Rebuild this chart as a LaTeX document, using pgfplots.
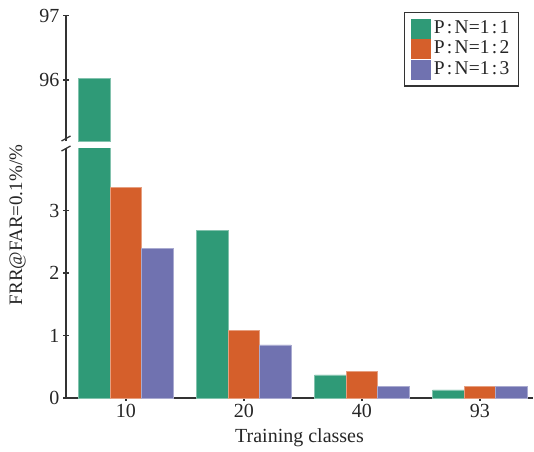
\documentclass[border=0pt]{standalone}
\usepackage{pgfplots}
\pgfplotsset{compat=1.18}
\usepackage{fontspec}
\setmainfont{Liberation Serif}
\definecolor{cA}{HTML}{2F9A77}
\definecolor{cB}{HTML}{D55F2B}
\definecolor{cC}{HTML}{7072B0}
\pgfplotstableread{
x g o p
0 96.03 3.37 2.39
1 2.68 1.08 0.85
2 0.37 0.43 0.19
3 0.13 0.19 0.19
}\data
\newcommand{\cs}{\hspace{0.12em}:\hspace{0.12em}}
\begin{document}
\begin{tikzpicture}
\useasboundingbox (0pt,0pt) rectangle (534pt,451pt);
\pgfplotsset{
 common/.style={
  scale only axis, width=467pt, xmin=-0.508, xmax=3.45,
  ybar=0pt, bar width=31.5pt,
  tick align=inside, major tick length=6pt,
  tick style={line width=1.3pt, black!80},
  ticklabel style={font=\fontsize{20}{24}\selectfont, text=black!85},
  /pgf/number format/assume math mode=true,
  clip=true,
 },
 nolinearrow/.style={
  axis line style={-, line width=1.3pt, black!80},
  x axis line style={-},
  y axis line style={-},
 },
 sq/.style={legend image code/.code={\fill[##1, draw=none] (0pt,-10pt) rectangle (20pt,10pt);}},
}
\begin{axis}[common, at={(66pt,53pt)}, anchor=south west, height=250pt,
  ymin=0, ymax=4,
  axis x line=bottom, axis y line=left, nolinearrow,
  xtick={0,1,2,3}, xticklabels={10,20,40,93}, ytick={0,1,2,3},
  xlabel={Training classes},
  xlabel style={font=\fontsize{20}{24}\selectfont, text=black!85, yshift=-4pt},
]
\addplot[fill=cA, draw=cA!60!white, line width=0.4pt, bar shift=-31.5pt] table[x=x,y=g]{\data};
\addplot[fill=cB, draw=cB!60!white, line width=0.4pt, bar shift=0pt] table[x=x,y=o]{\data};
\addplot[fill=cC, draw=cC!60!white, line width=0.4pt, bar shift=31.5pt] table[x=x,y=p]{\data};
\end{axis}
\begin{axis}[common, at={(66pt,310pt)}, anchor=south west, height=125.3pt,
  ymin=95.05, ymax=97,
  axis x line=none, axis y line=left, nolinearrow,
  ytick={96,97},
  legend cell align=left,
  legend style={at={(0.970,1.03)}, anchor=north east, draw=black!80, line width=1.2pt,
    font=\fontsize{19.5}{21}\selectfont, text=black!85, row sep=0pt,
    inner xsep=6pt, inner ysep=6pt,
    nodes={inner ysep=0pt, inner xsep=3pt, text height=14.5pt, text depth=6pt}},
]
\addlegendimage{sq, fill=cA}
\addlegendimage{sq, fill=cB}
\addlegendimage{sq, fill=cC}
\addplot[fill=cA, draw=cA!60!white, line width=0.4pt, bar shift=-31.5pt,
  restrict y to domain=95:100, forget plot] table[x=x,y=g]{\data};
\legend{P\cs N=1\cs 1, P\cs N=1\cs 2, P\cs N=1\cs 3}
\end{axis}
\draw[black!80, line width=1.3pt] (61.5pt,310pt) -- (70.5pt,315pt);
\draw[black!80, line width=1.3pt] (61.5pt,300pt) -- (70.5pt,305pt);
\node[rotate=90, font=\fontsize{19}{20}\selectfont, text=black!85] at (17.5pt,226pt) {FRR@FAR=0.1\%/\%};
\end{tikzpicture}
\end{document}
